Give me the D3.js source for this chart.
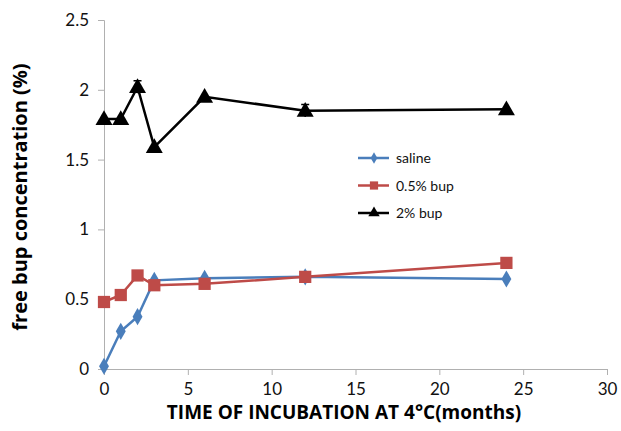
<!DOCTYPE html>
<html lang="en">
<head>
<meta charset="utf-8">
<title>free bup concentration</title>
<script src="https://cdn.jsdelivr.net/npm/d3@7"></script>
<style>
    body { margin: 0; background: #fff; }
    #chart text { font-family: Lato, "Open Sans", sans-serif; fill: #111; }
    #chart text.title { font-family: "Open Sans", sans-serif; font-weight: bold; fill: #000; }
</style>
</head>
<body>
<div id="chart"></div>
<script>

// months of incubation
const months = [0, 1, 2, 3, 6, 12, 24]

const saline  = [0.02, 0.27, 0.375, 0.635, 0.65, 0.66, 0.645]
const bup05   = [0.48, 0.53, 0.67, 0.60, 0.61, 0.66, 0.76]
const bup2    = [1.79, 1.79, 2.02, 1.59, 1.95, 1.85, 1.86]
const bup2Err = [0, 0, 0.045, 0, 0, 0.045, 0]

const xTicks = [0, 5, 10, 15, 20, 25, 30]
const yTicks = [0, 0.5, 1, 1.5, 2, 2.5]

const series = [
    {name: "saline",   values: saline, color: "#4a7ebb", symbol: "diamond"},
    {name: "0.5% bup", values: bup05,  color: "#be4b48", symbol: "square"},
    {name: "2% bup",   values: bup2,   color: "#000000", symbol: "triangle"}
]

const W = 621, H = 431
const margin = {top: 20, right: 14, bottom: 62, left: 104}
const width = W - margin.left - margin.right
const height = H - margin.top - margin.bottom

const svg = d3.select("#chart").append("svg")
    .attr("width", W).attr("height", H)

const g = svg.append("g")
    .attr("transform", "translate(" + margin.left + "," + margin.top + ")")

const x = d3.scaleLinear().domain([0, 30]).range([0, width])
const y = d3.scaleLinear().domain([0, 2.5]).range([height, 0])

// axes
const xAxis = g.append("g")
    .attr("transform", "translate(0," + height + ")")
    .call(d3.axisBottom(x).tickValues(xTicks).tickSize(6).tickPadding(8).tickFormat(d3.format("")))
const yAxis = g.append("g")
    .call(d3.axisLeft(y).tickValues(yTicks).tickSize(6).tickPadding(9).tickFormat(d3.format("")))

xAxis.selectAll("text").style("font-size", "17px")
yAxis.selectAll("text").style("font-size", "17px")
xAxis.selectAll("line, path").attr("stroke", "#b0b0b0")
yAxis.selectAll("line, path").attr("stroke", "#b0b0b0")

// axis titles
svg.append("text")
    .attr("class", "title")
    .attr("transform", "translate(27,197) rotate(-90)")
    .attr("text-anchor", "middle")
    .style("font-size", "20px")
    .text("free bup concentration (%)")

svg.append("text")
    .attr("class", "title")
    .attr("x", 344).attr("y", 419)
    .attr("text-anchor", "middle")
    .style("font-size", "19px")
    .text("TIME OF INCUBATION AT 4°C(months)")

const symbols = {diamond: d3.symbolDiamond, square: d3.symbolSquare, triangle: d3.symbolTriangle}
const symSize = {diamond: 85, square: 150, triangle: 125}

const line = d3.line()
    .x(function(d, i) { return x(months[i]) })
    .y(function(d) { return y(d) })

// error bars for 2% bup
g.selectAll(".err")
    .data(bup2Err.map(function(e, i) { return {e: e, i: i} }).filter(function(d) { return d.e > 0 }))
    .enter().append("path")
    .attr("class", "err")
    .attr("fill", "none").attr("stroke", "#000").attr("stroke-width", 1.5)
    .attr("d", function(d) {
        const cx = x(months[d.i]), top = y(bup2[d.i] + d.e), bot = y(bup2[d.i] - d.e)
        return "M" + cx + "," + bot + "V" + top + "M" + (cx - 4) + "," + top + "H" + (cx + 4)
    })

series.forEach(function(s) {
    g.append("path")
        .datum(s.values)
        .attr("fill", "none")
        .attr("stroke", s.color)
        .attr("stroke-width", 2.5)
        .attr("d", line)

    g.selectAll(".pt-" + s.symbol)
        .data(s.values)
        .enter().append("path")
        .attr("transform", function(d, i) {
            const dy = s.symbol === "triangle" ? 1 : 0
            return "translate(" + x(months[i]) + "," + (y(d) + dy) + ")"
        })
        .attr("d", d3.symbol().type(symbols[s.symbol]).size(symSize[s.symbol]))
        .attr("fill", s.color)
})

// legend
const legend = svg.append("g").attr("transform", "translate(358,158)")
series.forEach(function(s, i) {
    const row = legend.append("g").attr("transform", "translate(0," + (i * 27.5) + ")")
    row.append("line").attr("x1", 0).attr("x2", 31)
        .attr("stroke", s.color).attr("stroke-width", 2.5)
    row.append("path")
        .attr("transform", "translate(16,0)")
        .attr("d", d3.symbol().type(symbols[s.symbol]).size(symSize[s.symbol] * 0.45))
        .attr("fill", s.color)
    row.append("text").attr("x", 38).attr("y", 5)
        .style("font-size", "14px")
        .text(s.name)
})

</script>
</body>
</html>
